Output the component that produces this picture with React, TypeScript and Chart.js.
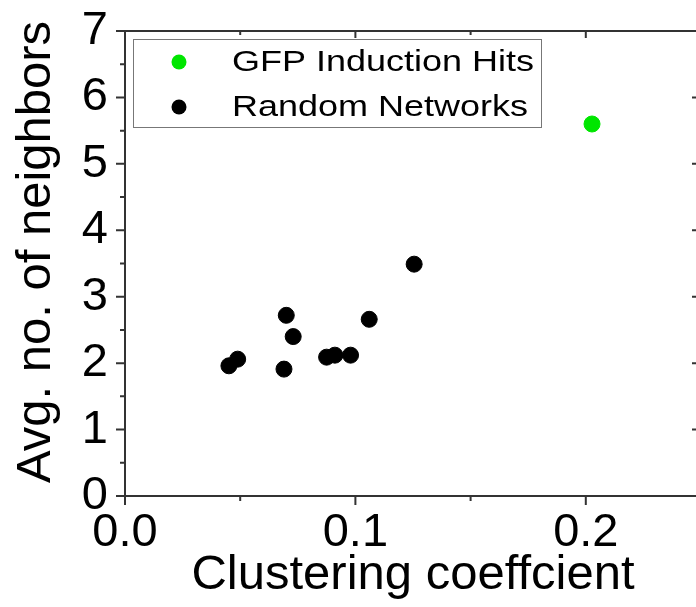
import React, { useEffect, useRef } from "react";
import { Chart, registerables } from "chart.js";

Chart.register(...registerables);

const gfpLabel = "GFP Induction Hits";
const randomLabel = "Random Networks";
const gfpX = [0.2027];
const gfpY = [5.6];
const randX = [0.0451, 0.0489, 0.069, 0.07, 0.073, 0.0875, 0.0911, 0.0979, 0.106, 0.1255];
const randY = [1.96, 2.06, 1.91, 2.72, 2.4, 2.09, 2.12, 2.12, 2.66, 3.49];
const xTickValues = [0, 0.1, 0.2];
const xMinorValues = [0.05, 0.15, 0.25];
const yTickValues = [0, 1, 2, 3, 4, 5, 6, 7];
const yMinorValues = [0.5, 1.5, 2.5, 3.5, 4.5, 5.5, 6.5];
const xTitle = "Clustering coeffcient";
const yTitle = "Avg. no. of neighbors";

const FONT = "'Liberation Sans', Arial, sans-serif";

const framePlugin = {
  id: "frame",
  afterDraw(chart: any) {
    const { ctx, chartArea } = chart;
    const { left, right, top, bottom } = chartArea;
    const xs = chart.scales.x;
    const ys = chart.scales.y;
    ctx.save();
    ctx.strokeStyle = "#333";
    ctx.lineWidth = 2;
    ctx.beginPath();
    ctx.moveTo(left, top);
    ctx.lineTo(right, top);
    ctx.lineTo(right, bottom);
    ctx.lineTo(left, bottom);
    ctx.closePath();
    ctx.stroke();
    ctx.beginPath();
    xTickValues.forEach((v) => {
      const p = xs.getPixelForValue(v);
      ctx.moveTo(p, bottom);
      ctx.lineTo(p, bottom + 9);
      ctx.moveTo(p, top);
      ctx.lineTo(p, top + 7);
    });
    xMinorValues.forEach((v) => {
      const p = xs.getPixelForValue(v);
      ctx.moveTo(p, bottom);
      ctx.lineTo(p, bottom + 5);
      ctx.moveTo(p, top);
      ctx.lineTo(p, top + 4);
    });
    yTickValues.forEach((v) => {
      const p = ys.getPixelForValue(v);
      ctx.moveTo(left, p);
      ctx.lineTo(left - 9, p);
      ctx.moveTo(right, p);
      ctx.lineTo(right - 9, p);
    });
    yMinorValues.forEach((v) => {
      const p = ys.getPixelForValue(v);
      ctx.moveTo(left, p);
      ctx.lineTo(left - 5, p);
      ctx.moveTo(right, p);
      ctx.lineTo(right - 5, p);
    });
    ctx.stroke();

    // y title
    ctx.save();
    ctx.translate(36, 252);
    ctx.rotate(-Math.PI / 2);
    ctx.fillStyle = "#000";
    ctx.font = `49px ${FONT}`;
    ctx.textAlign = "center";
    ctx.textBaseline = "middle";
    ctx.fillText(yTitle, 0, 0);
    ctx.restore();

    // legend
    const bx = 133, by = 39, bw = 408, bh = 88;
    ctx.strokeStyle = "#777";
    ctx.lineWidth = 1;
    ctx.strokeRect(bx + 0.5, by + 0.5, bw, bh);
    const rows = [62, 107];
    chart.data.datasets.forEach((ds: any, i: number) => {
      const cy = rows[i];
      ctx.fillStyle = ds.backgroundColor;
      ctx.beginPath();
      ctx.arc(179, cy, 7.5, 0, Math.PI * 2);
      ctx.fill();
      ctx.save();
      ctx.translate(232, cy);
      ctx.scale(1.2, 1);
      ctx.fillStyle = "#000";
      ctx.font = `30px ${FONT}`;
      ctx.textAlign = "left";
      ctx.textBaseline = "middle";
      ctx.fillText(ds.label, 0, 1);
      ctx.restore();
    });
    ctx.restore();
  },
};

export default function App() {
  const ref = useRef<HTMLCanvasElement>(null);
  useEffect(() => {
    const canvas = ref.current!;
    const chart = new Chart(canvas, {
      type: "scatter",
      data: {
        datasets: [
          {
            label: gfpLabel,
            data: gfpX.map((x, i) => ({ x, y: gfpY[i] })),
            backgroundColor: "#00e600",
            borderColor: "#00e600",
            pointRadius: 8,
            pointHoverRadius: 8,
          },
          {
            label: randomLabel,
            data: randX.map((x, i) => ({ x, y: randY[i] })),
            backgroundColor: "#000000",
            borderColor: "#000000",
            pointRadius: 8,
            pointHoverRadius: 8,
          },
        ],
      },
      options: {
        animation: false,
        responsive: false,
        maintainAspectRatio: false,
        layout: { padding: { top: 31, right: 19, left: 0, bottom: 0 } },
        plugins: { legend: { display: false }, tooltip: { enabled: false } },
        scales: {
          x: {
            type: "linear",
            position: "bottom",
            min: 0,
            max: 0.25,
            grid: { display: false, drawTicks: false },
            border: { display: false },
            afterFit: (s: any) => {
              s.height = 111;
              s.paddingLeft = 0;
              s.paddingRight = 0;
            },
            afterBuildTicks: (s: any) => {
              s.ticks = xTickValues.map((v) => ({ value: v }));
            },
            ticks: {
              padding: 9,
              color: "#000",
              font: { family: FONT, size: 47 },
              maxRotation: 0,
              autoSkip: false,
              callback: (v: any) => Number(v).toFixed(1),
            },
            title: {
              display: true,
              text: xTitle,
              color: "#000",
              font: { family: FONT, size: 49 },
              padding: { top: 0, bottom: 2 },
            },
          },
          y: {
            type: "linear",
            position: "left",
            min: 0,
            max: 7,
            grid: { display: false, drawTicks: false },
            border: { display: false },
            afterFit: (s: any) => {
              s.width = 125;
              s.paddingTop = 0;
              s.paddingBottom = 0;
            },
            afterBuildTicks: (s: any) => {
              s.ticks = yTickValues.map((v) => ({ value: v }));
            },
            ticks: {
              padding: 17,
              color: "#000",
              font: { family: FONT, size: 47 },
              autoSkip: false,
              callback: (v: any) => String(v),
            },
            title: { display: false },
          },
        },
      },
      plugins: [framePlugin],
    });
    return () => chart.destroy();
  }, []);
  return (
    <div
      style={{
        position: "fixed",
        left: 0,
        top: 0,
        width: 696,
        height: 607,
        overflow: "hidden",
        background: "#fff",
      }}
    >
      <canvas ref={ref} width={720} height={607} style={{ display: "block" }} />
    </div>
  );
}
